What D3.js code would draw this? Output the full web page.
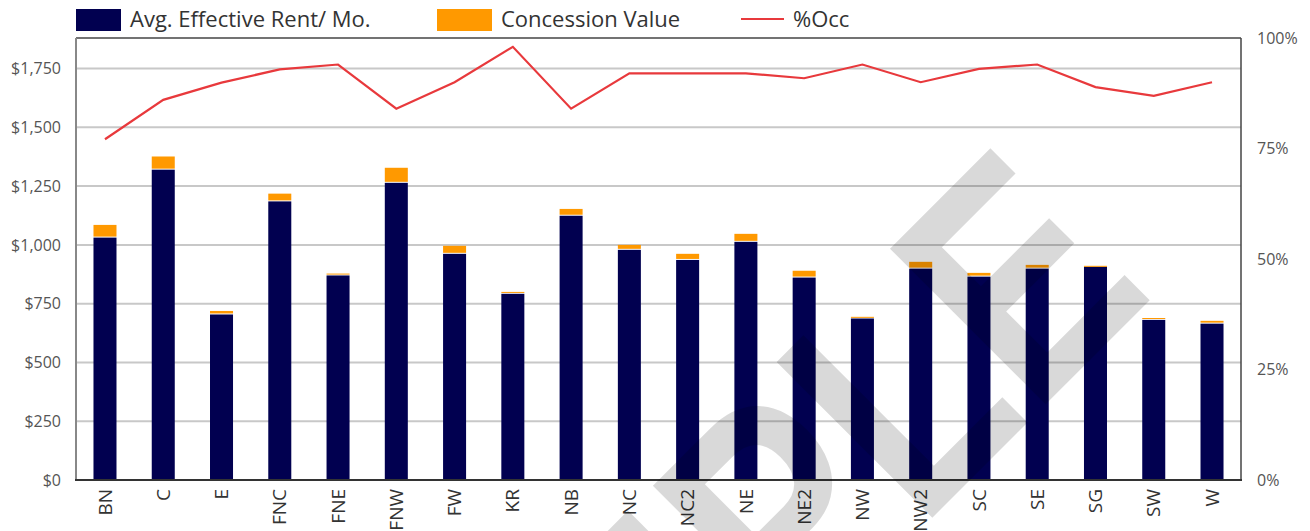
<!DOCTYPE html>
<html>
<head>
<meta charset="utf-8">
<script src="https://cdn.jsdelivr.net/npm/d3@7"></script>
<style>
  body { margin: 0; background: #fff; }
  svg { display: block; }
</style>
</head>
<body>
<svg width="1310" height="531"></svg>
<script>
const categories = ["BN", "C", "E", "FNC", "FNE", "FNW", "FW", "KR", "NB", "NC",
  "NC2", "NE", "NE2", "NW", "NW2", "SC", "SE", "SG", "SW", "W"]
const rent = [1031, 1320, 704, 1185, 870, 1264, 962, 792, 1124, 979,
  936, 1013, 861, 687, 899, 865, 899, 907, 681, 665]
const concession = [54, 56, 15, 33, 8, 64, 34, 8, 29, 21,
  26, 34, 29, 7, 29, 16, 16, 4, 8, 12]
const occupancy = [0.771, 0.86, 0.899, 0.929, 0.94, 0.84, 0.90, 0.98, 0.84, 0.92,
  0.92, 0.92, 0.909, 0.94, 0.90, 0.93, 0.94, 0.889, 0.869, 0.90]
const rentTicks = [0, 250, 500, 750, 1000, 1250, 1500, 1750]
const occTicks = [0, 0.25, 0.5, 0.75, 1]

const svg = d3.select("svg")
const plotLeft = 76, plotRight = 1241, plotTop = 38, plotBottom = 480

const x = d3.scaleBand().domain(categories).range([plotLeft, plotRight]).paddingInner(0.605).paddingOuter(0.3)
const y = d3.scaleLinear().domain([0, 1880]).range([plotBottom, plotTop])
const yOcc = d3.scaleLinear().domain([0, 1]).range([plotBottom, plotTop])

// gridlines
svg.append("g")
  .selectAll("line")
  .data(rentTicks.filter(d => d > 0))
  .join("line")
  .attr("x1", plotLeft).attr("x2", plotRight)
  .attr("y1", d => y(d)).attr("y2", d => y(d))
  .attr("stroke", "#c8c8c8")
  .attr("stroke-width", 2)

// left axis
const yAxis = svg.append("g")
  .attr("transform", `translate(${plotLeft},0)`)
  .call(d3.axisLeft(y).tickValues(rentTicks).tickSize(0).tickPadding(15)
    .tickFormat(d => "$" + d3.format(",")(d)))
yAxis.select(".domain").remove()
yAxis.selectAll("text")
  .attr("font-family", "Open Sans")
  .attr("font-size", 16)
  .attr("fill", "#555")

// right axis
const occAxis = svg.append("g")
  .attr("transform", `translate(${plotRight},0)`)
  .call(d3.axisRight(yOcc).tickValues(occTicks).tickSize(0).tickPadding(16)
    .tickFormat(d3.format(".0%")))
occAxis.select(".domain").remove()
occAxis.selectAll("text")
  .attr("font-family", "Open Sans")
  .attr("font-size", 16)
  .attr("fill", "#555")

// bars
const bars = svg.append("g")
bars.selectAll("rect.rent")
  .data(categories)
  .join("rect")
  .attr("class", "rent")
  .attr("x", d => x(d))
  .attr("width", x.bandwidth())
  .attr("y", (d, i) => y(rent[i]))
  .attr("height", (d, i) => y(0) - y(rent[i]))
  .attr("fill", "#010050")

bars.selectAll("rect.conc")
  .data(categories)
  .join("rect")
  .attr("class", "conc")
  .attr("x", d => x(d))
  .attr("width", x.bandwidth())
  .attr("y", (d, i) => y(rent[i] + concession[i]))
  .attr("height", (d, i) => Math.max(1, y(rent[i]) - y(rent[i] + concession[i]) - 1))
  .attr("fill", "#ff9900")

// frame
svg.append("line").attr("x1", plotLeft).attr("x2", plotRight).attr("y1", plotTop).attr("y2", plotTop)
  .attr("stroke", "#444").attr("stroke-width", 1.5)
svg.append("line").attr("x1", plotRight).attr("x2", plotRight).attr("y1", plotTop).attr("y2", plotBottom)
  .attr("stroke", "#444").attr("stroke-width", 1.5)
svg.append("line").attr("x1", plotLeft).attr("x2", plotLeft).attr("y1", plotTop).attr("y2", plotBottom)
  .attr("stroke", "#888").attr("stroke-width", 2)
svg.append("line").attr("x1", plotLeft - 1).attr("x2", plotRight + 1).attr("y1", plotBottom).attr("y2", plotBottom)
  .attr("stroke", "#333").attr("stroke-width", 2)

// occupancy line
const line = d3.line()
  .x(d => x(d) + x.bandwidth() / 2)
  .y((d, i) => yOcc(occupancy[i]))
svg.append("path")
  .datum(categories)
  .attr("d", line)
  .attr("fill", "none")
  .attr("stroke", "#e8393c")
  .attr("stroke-width", 2.2)

// x labels
const xAxis = svg.append("g")
  .attr("transform", `translate(0,${plotBottom})`)
  .call(d3.axisBottom(x).tickSize(0))
xAxis.select(".domain").remove()
xAxis.selectAll("text")
  .attr("transform", "rotate(-90)")
  .attr("text-anchor", "end")
  .attr("x", -9)
  .attr("y", 0)
  .attr("dy", "0.35em")
  .attr("font-family", "Open Sans")
  .attr("font-size", 19)
  .attr("fill", "#333")

// legend
const legend = svg.append("g").attr("font-family", "Open Sans").attr("font-size", 22).attr("fill", "#333")
legend.append("rect").attr("x", 76).attr("y", 9).attr("width", 45).attr("height", 22).attr("fill", "#010050")
legend.append("text").attr("x", 130).attr("y", 27).text("Avg. Effective Rent/ Mo.")
legend.append("rect").attr("x", 437).attr("y", 9).attr("width", 55).attr("height", 22).attr("fill", "#ff9900")
legend.append("text").attr("x", 501).attr("y", 27).text("Concession Value")
legend.append("line").attr("x1", 741).attr("x2", 784).attr("y1", 19).attr("y2", 19)
  .attr("stroke", "#e8393c").attr("stroke-width", 2.2)
legend.append("text").attr("x", 793).attr("y", 27).text("%Occ")

// watermark
svg.append("text")
  .attr("transform", "translate(1157,293) rotate(-45) scale(0.82,1)")
  .attr("text-anchor", "end")
  .attr("font-family", "Liberation Sans")
  .attr("font-weight", "bold")
  .attr("font-size", 320)
  .attr("fill", "#000")
  .attr("fill-opacity", 0.15)
  .text("SAMPLE")
</script>
</body>
</html>
